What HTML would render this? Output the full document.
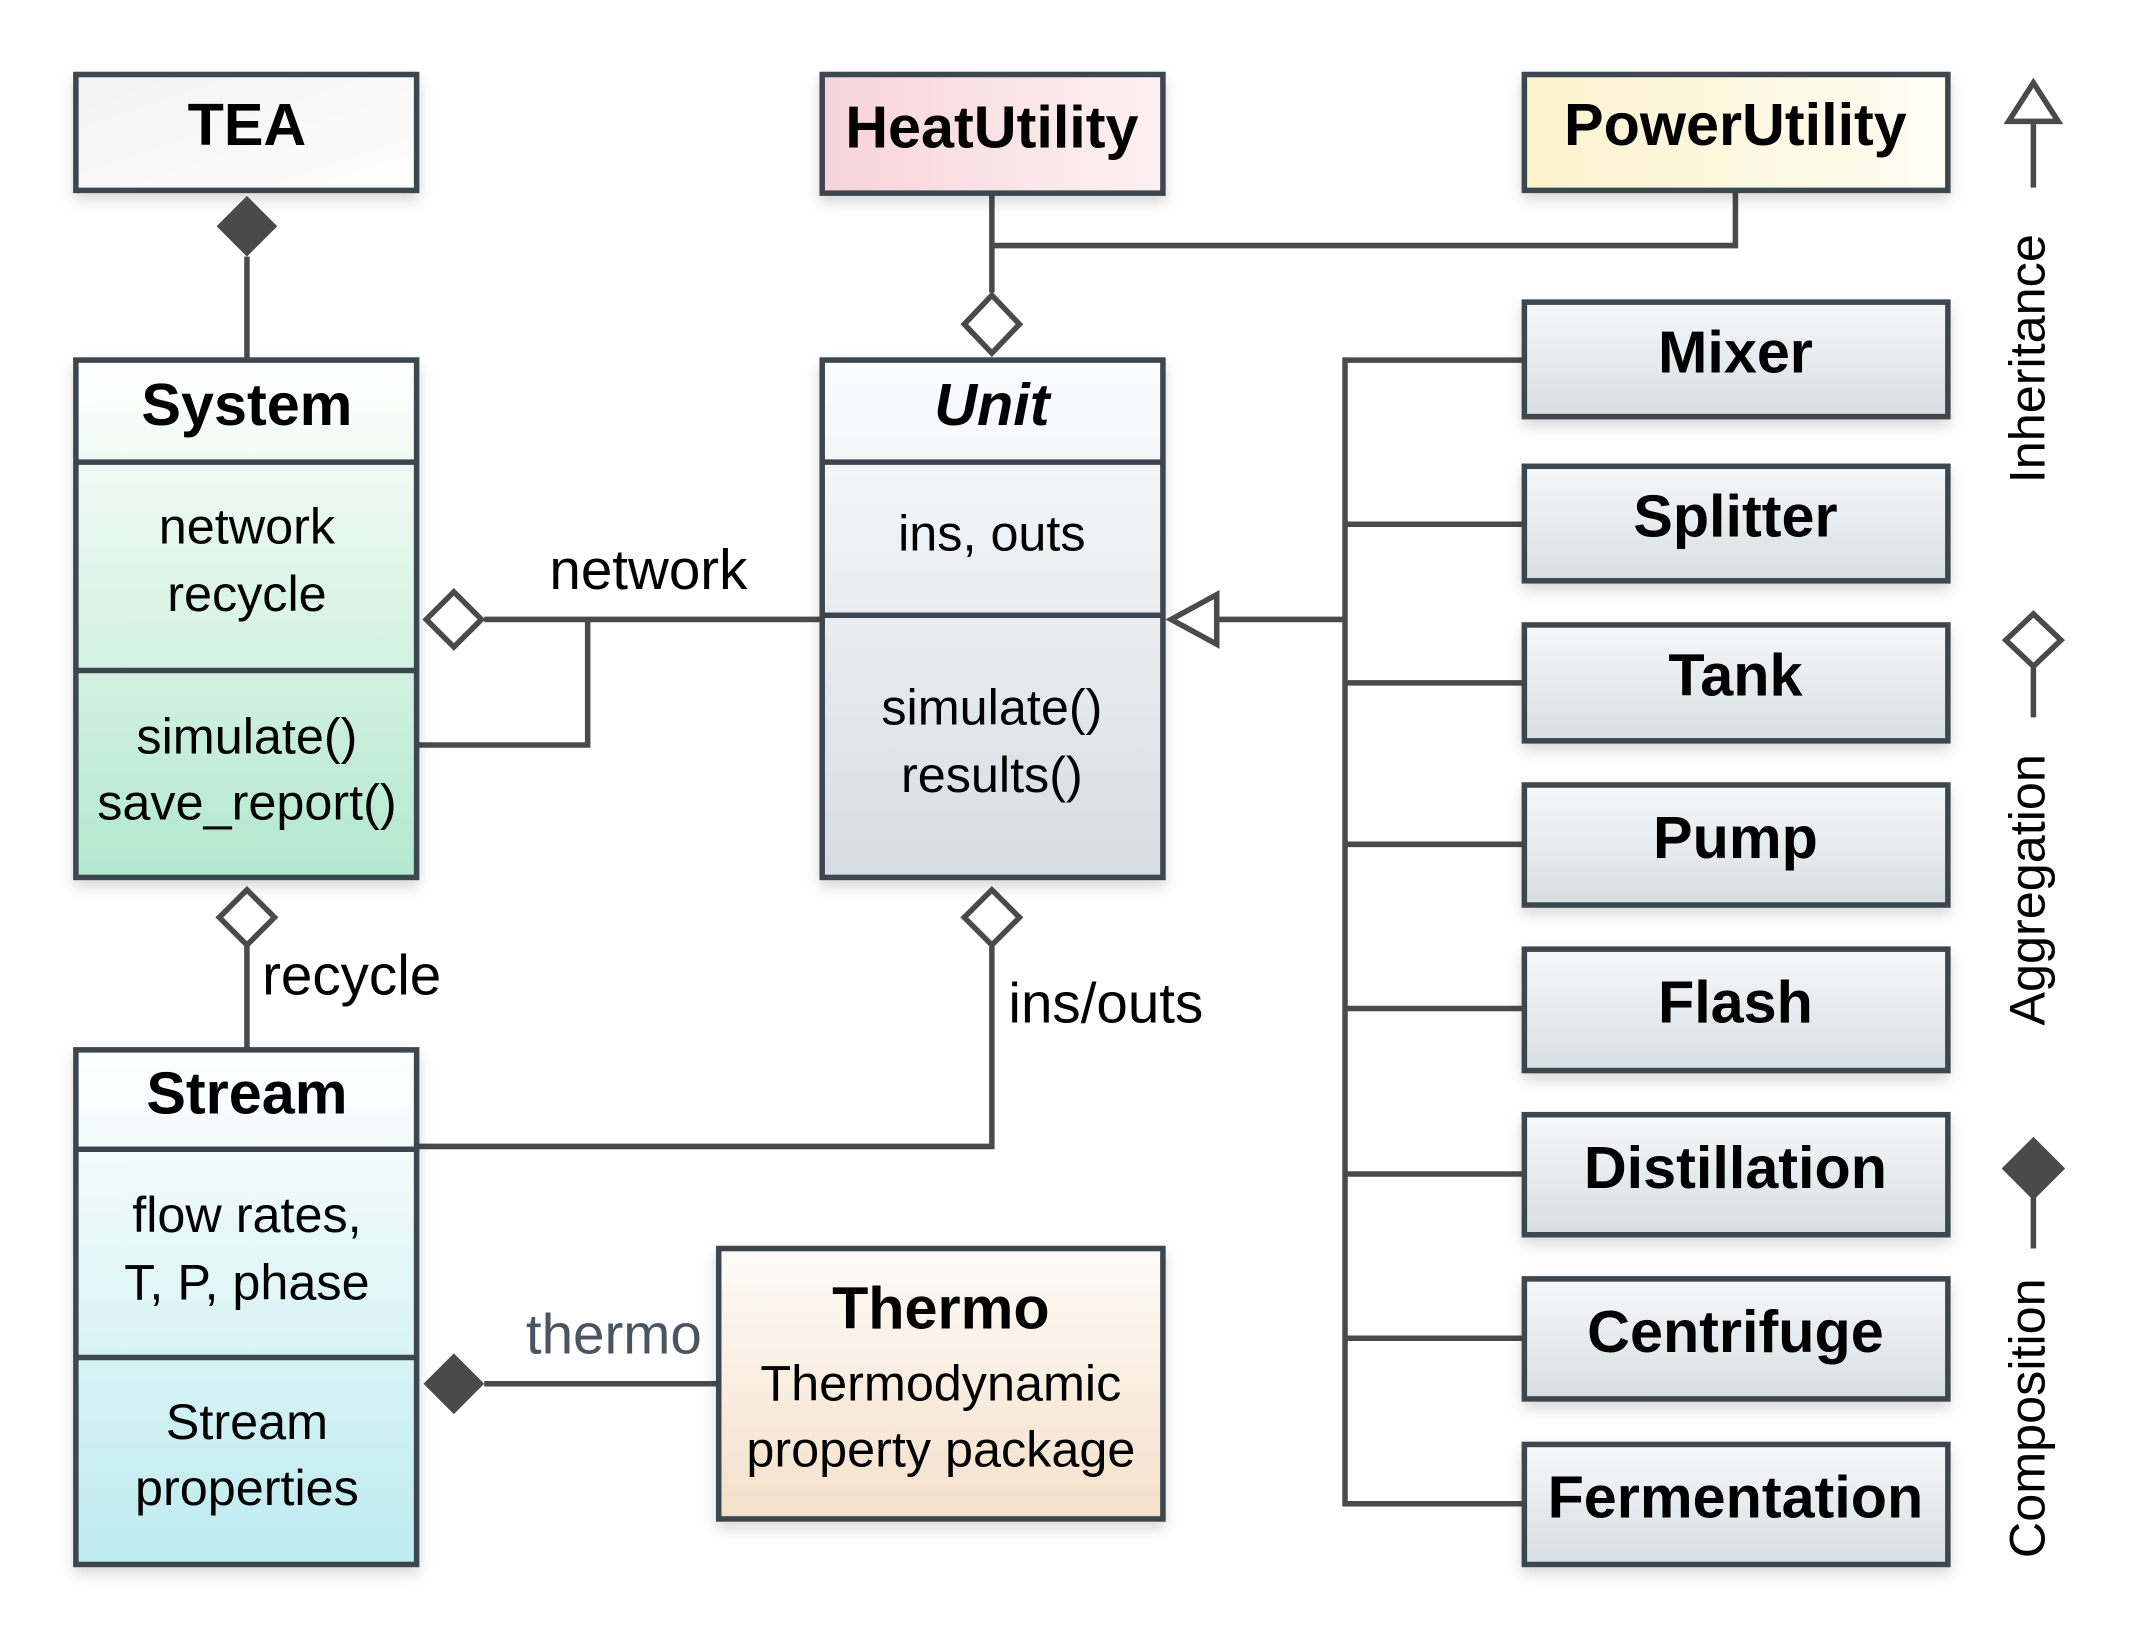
<!DOCTYPE html>
<html><head><meta charset="utf-8"><style>
html,body{margin:0;padding:0;background:#fff;}
svg{display:block;}
text{font-family:"Liberation Sans",Arial,sans-serif;}
</style></head><body>
<svg width="2141" height="1650" viewBox="0 0 1552 1196" preserveAspectRatio="none" xmlns="http://www.w3.org/2000/svg">
<defs>
<filter id="sh" x="-20%" y="-20%" width="140%" height="150%"><feDropShadow dx="0" dy="5" stdDeviation="5" flood-color="#000" flood-opacity="0.15"/></filter>
<linearGradient id="gTea" x1="0" y1="0" x2="1" y2="1"><stop offset="0" stop-color="#f3f3f3"/><stop offset="1" stop-color="#fdfdfd"/></linearGradient>
<linearGradient id="gHeat" x1="0" y1="0" x2="1" y2="0"><stop offset="0" stop-color="#f7d3d9"/><stop offset="1" stop-color="#fdf1f2"/></linearGradient>
<linearGradient id="gPow" x1="0" y1="0" x2="1" y2="0"><stop offset="0" stop-color="#fbf2cc"/><stop offset="1" stop-color="#fffdf3"/></linearGradient>
<linearGradient id="gSys" x1="0" y1="0" x2="0" y2="1"><stop offset="0" stop-color="#ffffff"/><stop offset="1" stop-color="#b3e8cd"/></linearGradient>
<linearGradient id="gUnit" x1="0" y1="0" x2="0" y2="1"><stop offset="0" stop-color="#fbfcfd"/><stop offset="1" stop-color="#d6dde2"/></linearGradient>
<linearGradient id="gStr" x1="0" y1="0" x2="0" y2="1"><stop offset="0" stop-color="#ffffff"/><stop offset="1" stop-color="#bdebee"/></linearGradient>
<linearGradient id="gTh" x1="0" y1="0" x2="0" y2="1"><stop offset="0" stop-color="#fefbf7"/><stop offset="1" stop-color="#f4e0ca"/></linearGradient>
<linearGradient id="gBox" x1="0" y1="0" x2="0" y2="1"><stop offset="0" stop-color="#f6f8f9"/><stop offset="1" stop-color="#d7dee2"/></linearGradient>
</defs>

<g stroke="#4a4a4a" stroke-width="4" fill="none">
<line x1="179" y1="186" x2="179" y2="261"/>
<line x1="719" y1="140" x2="719" y2="212"/>
<polyline points="719,178 1258,178 1258,138"/>
<line x1="351" y1="449" x2="596" y2="449"/>
<polyline points="426,449 426,540 302,540"/>
<line x1="882" y1="449" x2="975" y2="449"/>
<line x1="975" y1="259" x2="975" y2="1092"/>
<line x1="975" y1="261" x2="1105" y2="261"/>
<line x1="975" y1="380" x2="1105" y2="380"/>
<line x1="975" y1="495" x2="1105" y2="495"/>
<line x1="975" y1="612" x2="1105" y2="612"/>
<line x1="975" y1="731" x2="1105" y2="731"/>
<line x1="975" y1="851" x2="1105" y2="851"/>
<line x1="975" y1="970" x2="1105" y2="970"/>
<line x1="975" y1="1090" x2="1105" y2="1090"/>
<line x1="179" y1="686" x2="179" y2="761"/>
<polyline points="719,686 719,831 302,831"/>
<line x1="351" y1="1003" x2="521" y2="1003"/>
<line x1="1474" y1="90" x2="1474" y2="136"/>
<line x1="1474" y1="483" x2="1474" y2="520"/>
<line x1="1474" y1="868" x2="1474" y2="905"/>
</g>

<g stroke="#3d4650" stroke-width="4" filter="url(#sh)">
<rect x="55" y="54" width="247" height="84" fill="url(#gTea)"/>
<rect x="596" y="54" width="247" height="86" fill="url(#gHeat)"/>
<rect x="1105" y="54" width="307" height="84" fill="url(#gPow)"/>
<rect x="55" y="261" width="247" height="375" fill="url(#gSys)"/>
<rect x="596" y="261" width="247" height="375" fill="url(#gUnit)"/>
<rect x="55" y="761" width="247" height="373" fill="url(#gStr)"/>
<rect x="521" y="905" width="322" height="196" fill="url(#gTh)"/>
<rect x="1105" y="219" width="307" height="83" fill="url(#gBox)"/>
<rect x="1105" y="338" width="307" height="83" fill="url(#gBox)"/>
<rect x="1105" y="453" width="307" height="84" fill="url(#gBox)"/>
<rect x="1105" y="569" width="307" height="87" fill="url(#gBox)"/>
<rect x="1105" y="688" width="307" height="88" fill="url(#gBox)"/>
<rect x="1105" y="808" width="307" height="87" fill="url(#gBox)"/>
<rect x="1105" y="927" width="307" height="87" fill="url(#gBox)"/>
<rect x="1105" y="1047" width="307" height="87" fill="url(#gBox)"/>
</g>
<g stroke="#3d4650" stroke-width="4">
<line x1="55" y1="335" x2="302" y2="335"/>
<line x1="55" y1="486" x2="302" y2="486"/>
<line x1="596" y1="335" x2="843" y2="335"/>
<line x1="596" y1="446" x2="843" y2="446"/>
<line x1="55" y1="833" x2="302" y2="833"/>
<line x1="55" y1="984" x2="302" y2="984"/>
</g>

<g stroke="#4a4a4a" stroke-width="4">
<polygon points="179,142 201,164 179,186 157,164" fill="#4a4a4a" stroke="none"/>
<polygon points="719,214 739,235 719,256 699,235" fill="#fff"/>
<polygon points="309,449 329,429 349,449 329,469" fill="#fff"/>
<polygon points="849,449 882,431 882,467" fill="#fff"/>
<polygon points="179,645 199,665 179,685 159,665" fill="#fff"/>
<polygon points="719,645 739,665 719,685 699,665" fill="#fff"/>
<polygon points="307,1003 329,981 351,1003 329,1025" fill="#4a4a4a" stroke="none"/>
<polygon points="1474,60 1492,88 1456,88" fill="#fff"/>
<polygon points="1474,445 1494,464 1474,483 1454,464" fill="#fff"/>
<polygon points="1474,824 1497,847 1474,870 1451,847" fill="#4a4a4a" stroke="none"/>
</g>

<g text-anchor="middle" fill="#000">
<text x="179" y="105" font-size="43" font-weight="bold">TEA</text>
<text x="719" y="107" font-size="43" font-weight="bold">HeatUtility</text>
<text x="1258" y="105" font-size="43" font-weight="bold">PowerUtility</text>
<text x="179" y="308" font-size="43" font-weight="bold">System</text>
<text x="179" y="394" font-size="36.5">network</text>
<text x="179" y="443" font-size="36.5">recycle</text>
<text x="179" y="546" font-size="36.5">simulate()</text>
<text x="179" y="594" font-size="36.5">save_report()</text>
<text x="719" y="308" font-size="43" font-weight="bold" font-style="italic">Unit</text>
<text x="719" y="399" font-size="36.5">ins, outs</text>
<text x="719" y="525" font-size="36.5">simulate()</text>
<text x="719" y="574" font-size="36.5">results()</text>
<text x="179" y="807" font-size="43" font-weight="bold">Stream</text>
<text x="179" y="893" font-size="36.5">flow rates,</text>
<text x="179" y="942" font-size="36.5">T, P, phase</text>
<text x="179" y="1043" font-size="36.5">Stream</text>
<text x="179" y="1091" font-size="36.5">properties</text>
<text x="682" y="963" font-size="43" font-weight="bold">Thermo</text>
<text x="682" y="1015" font-size="36.5">Thermodynamic</text>
<text x="682" y="1063" font-size="36.5">property package</text>
<text x="470" y="427" font-size="41">network</text>
<text x="445" y="981" font-size="41" fill="#4a5563">thermo</text>
<g font-size="43" font-weight="bold">
<text x="1258" y="270">Mixer</text>
<text x="1258" y="389">Splitter</text>
<text x="1258" y="504">Tank</text>
<text x="1258" y="622">Pump</text>
<text x="1258" y="741">Flash</text>
<text x="1258" y="861">Distillation</text>
<text x="1258" y="980">Centrifuge</text>
<text x="1258" y="1100">Fermentation</text>
</g>
<g font-size="36.5">
<text transform="translate(1482,260) rotate(-90)">Inheritance</text>
<text transform="translate(1482,645) rotate(-90)">Aggregation</text>
<text transform="translate(1482,1028) rotate(-90)">Composition</text>
</g>
</g>
<text x="190" y="721" font-size="41">recycle</text>
<text x="731" y="741" font-size="41">ins/outs</text>
</svg>
</body></html>
